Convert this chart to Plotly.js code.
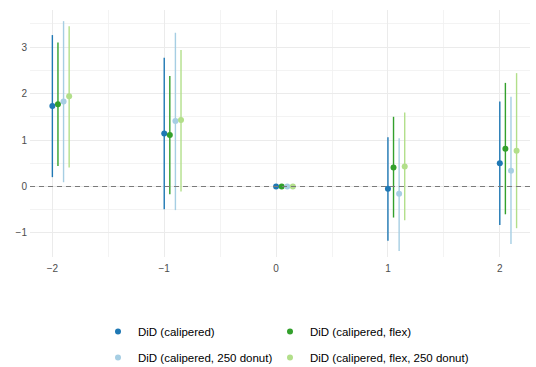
<!DOCTYPE html>
<html>
<head>
<meta charset="utf-8">
<script src="https://cdn.plot.ly/plotly-3.0.1.min.js"></script>
<style>html,body{margin:0;padding:0;background:#fff}#chart{width:536px;height:367px}</style>
</head>
<body>
<div id="chart"></div>
<script>
const periods = [-2, -1, 0, 1, 2];
const seriesNames = ["DiD (calipered)", "DiD (calipered, flex)", "DiD (calipered, 250 donut)", "DiD (calipered, flex, 250 donut)"];
const dodge = [0, 0.05, 0.10, 0.15];
const colors = ["#1f78b4", "#33a02c", "#a6cee3", "#b2df8a"];

const estCal      = [1.73, 1.14, 0, -0.05, 0.50];
const upperCal    = [3.26, 2.77, 0, 1.06, 1.83];
const lowerCal    = [0.20, -0.49, 0, -1.17, -0.83];

const estFlex     = [1.77, 1.11, 0, 0.41, 0.81];
const upperFlex   = [3.10, 2.38, 0, 1.50, 2.23];
const lowerFlex   = [0.44, -0.17, 0, -0.67, -0.60];

const estDonut    = [1.83, 1.41, 0, -0.16, 0.34];
const upperDonut  = [3.56, 3.31, 0, 1.04, 1.93];
const lowerDonut  = [0.09, -0.51, 0, -1.39, -1.24];

const estFlexDonut   = [1.94, 1.43, 0, 0.43, 0.77];
const upperFlexDonut = [3.45, 2.94, 0, 1.59, 2.44];
const lowerFlexDonut = [0.41, -0.11, 0, -0.73, -0.90];

const est = [estCal, estFlex, estDonut, estFlexDonut];
const upper = [upperCal, upperFlex, upperDonut, upperFlexDonut];
const lower = [lowerCal, lowerFlex, lowerDonut, lowerFlexDonut];
const legendOf = ["legend", "legend2", "legend3", "legend4"];

const traces = seriesNames.map((name, i) => ({
  type: "scatter",
  mode: "markers",
  name: name,
  legend: legendOf[i],
  x: periods.map(p => p + dodge[i]),
  y: est[i],
  marker: {color: colors[i], size: 6},
  error_y: {
    type: "data",
    symmetric: false,
    array: upper[i].map((u, k) => u - est[i][k]),
    arrayminus: est[i].map((e, k) => e - lower[i][k]),
    color: colors[i],
    thickness: 1.4,
    width: 0
  }
}));

const font = "Liberation Sans, Arial, sans-serif";
const legendBase = {
  orientation: "h", xref: "paper", yref: "paper", xanchor: "left", yanchor: "middle",
  font: {family: font, size: 11.5, color: "#000"},
  bgcolor: "rgba(0,0,0,0)", itemwidth: 30
};
const col1 = 0.136, col2 = 0.48, row1 = -0.302, row2 = -0.407;

const layout = {
  width: 536, height: 367,
  margin: {l: 30, r: 6, t: 10, b: 110, autoexpand: false},
  paper_bgcolor: "#fff", plot_bgcolor: "#fff",
  showlegend: true,
  legend:  Object.assign({}, legendBase, {x: col1, y: row1}),
  legend2: Object.assign({}, legendBase, {x: col2, y: row1}),
  legend3: Object.assign({}, legendBase, {x: col1, y: row2}),
  legend4: Object.assign({}, legendBase, {x: col2, y: row2}),
  xaxis: {
    range: [-2.2, 2.27],
    tickvals: periods,
    ticktext: periods.map(p => p < 0 ? "\u2212" + Math.abs(p) : String(p)),
    showgrid: true, gridcolor: "#ebebeb", gridwidth: 1,
    minor: {dtick: 0.5, tick0: 0, showgrid: true, gridcolor: "#f0f0f0", gridwidth: 0.8},
    zeroline: false, showline: false, ticks: "", ticklabelstandoff: 4,
    tickfont: {family: font, size: 10, color: "#4d4d4d"}
  },
  yaxis: {
    range: [-1.52, 3.8],
    dtick: 1, tick0: 0,
    showgrid: true, gridcolor: "#ebebeb", gridwidth: 1,
    minor: {dtick: 0.5, tick0: 0, showgrid: true, gridcolor: "#f0f0f0", gridwidth: 0.8},
    zeroline: false, showline: false, ticks: "", ticklabelstandoff: 2,
    tickfont: {family: font, size: 10, color: "#4d4d4d"}
  },
  shapes: [{
    type: "line", xref: "paper", x0: 0, x1: 1, yref: "y", y0: 0, y1: 0,
    line: {color: "#7a7a7a", width: 1.1, dash: "5px,4px"}, layer: "above"
  }]
};

Plotly.newPlot("chart", traces, layout, {displayModeBar: false, staticPlot: true});
</script>
</body>
</html>
